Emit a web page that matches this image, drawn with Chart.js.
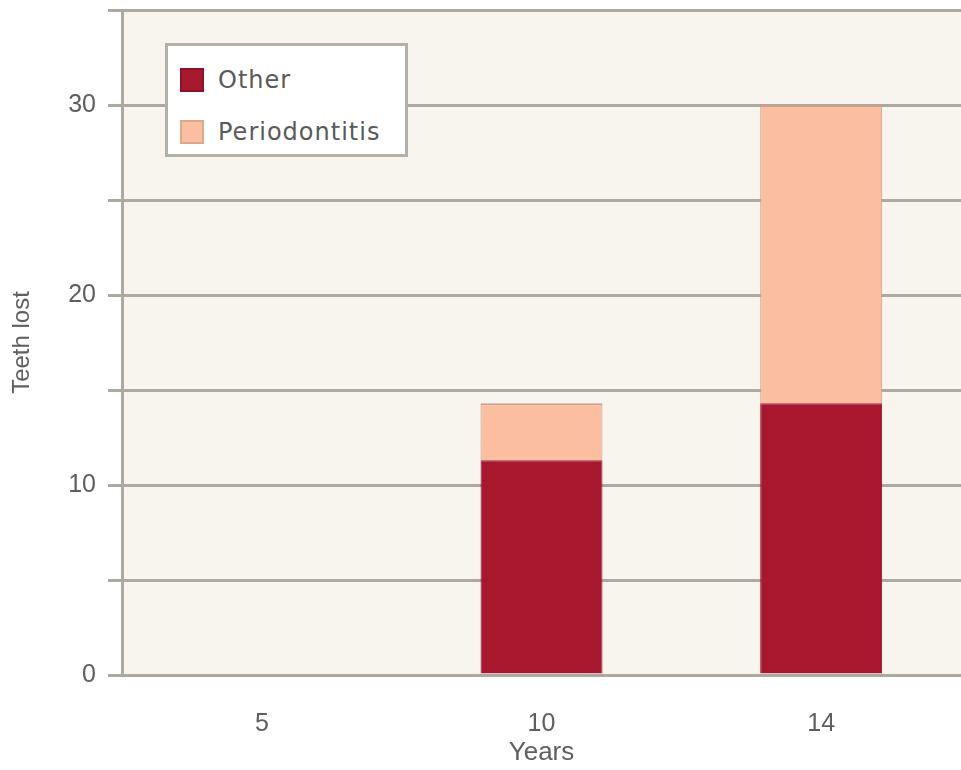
<!DOCTYPE html>
<html>
<head>
<meta charset="utf-8">
<script src="https://cdn.jsdelivr.net/npm/chart.js@4"></script>
<style>
  html, body { margin: 0; padding: 0; background: #ffffff; overflow: hidden; }
  #wrap { position: relative; width: 961px; height: 770px; }
  #legend {
    position: absolute; left: 165px; top: 43px; width: 237px; height: 108px;
    background: #ffffff; border: 3px solid #b3b0a8;
    font-family: "DejaVu Sans", sans-serif; font-size: 24px; letter-spacing: 1px; color: #5a5a5a;
  }
  .item { position: absolute; left: 12px; display: flex; align-items: center; }
  .swatch { width: 24px; height: 24px; margin-right: 14px; box-sizing: border-box; }
</style>
</head>
<body>
<div id="wrap">
  <canvas id="chart" width="961" height="770"></canvas>
  <div id="legend"></div>
</div>
<script>
const years = ["5", "10", "14"];
const other = [0, 11.3, 14.3];
const periodontitis = [0, 3.0, 15.7];
const yTicks = [0, 10, 20, 30];

const otherColor = "#a9172f";
const perioColor = "#fbbea0";
const gridColor = "#aca99f";
const textColor = "#5e5e5e";

const plotBg = {
    id: "plotBg",
    beforeDraw(chart) {
        const {ctx, chartArea} = chart;
        ctx.save();
        ctx.fillStyle = "#f8f5ef";
        ctx.fillRect(chartArea.left, chartArea.top, chartArea.right - chartArea.left, chartArea.bottom - chartArea.top);
        ctx.restore();
    }
};

const chart = new Chart(document.getElementById("chart"), {
    type: "bar",
    data: {
        labels: years,
        datasets: [
            {
                label: "Other",
                data: other,
                backgroundColor: otherColor,
                borderColor: "#8e1226",
                borderWidth: 1
            },
            {
                label: "Periodontitis",
                data: periodontitis,
                backgroundColor: perioColor,
                borderColor: "#c9a08a",
                borderWidth: {top: 2, left: 1, right: 1, bottom: 0}
            }
        ]
    },
    options: {
        responsive: false,
        animation: false,
        layout: { padding: { top: 10, right: 0, bottom: 0, left: 0 } },
        datasets: {
            bar: { categoryPercentage: 1, barPercentage: 0.436 }
        },
        plugins: {
            legend: { display: false },
            tooltip: { enabled: false }
        },
        scales: {
            x: {
                stacked: true,
                grid: { display: false },
                border: { display: false },
                ticks: {
                    color: textColor,
                    padding: 26,
                    font: { family: "Liberation Sans", size: 25 }
                },
                title: {
                    display: true,
                    text: "Years",
                    color: textColor,
                    padding: { top: 0, bottom: 2 },
                    font: { family: "Liberation Sans", size: 26 }
                },
                afterFit(scale) { scale.height = 95; }
            },
            y: {
                stacked: true,
                min: 0,
                max: 35,
                grid: {
                    color: gridColor,
                    lineWidth: 3,
                    tickLength: 14,
                    tickColor: gridColor
                },
                border: { display: true, color: gridColor, width: 3 },
                ticks: {
                    stepSize: 5,
                    padding: 12,
                    color: textColor,
                    font: { family: "Liberation Sans", size: 25 },
                    callback: v => yTicks.includes(v) ? v : ""
                },
                title: {
                    display: true,
                    text: "Teeth lost",
                    color: textColor,
                    padding: { top: 8, bottom: 0 },
                    font: { family: "Liberation Sans", size: 24 }
                },
                afterFit(scale) {
                    scale.width = 122;
                    scale.paddingTop = 0;
                    scale.paddingBottom = 0;
                }
            }
        }
    },
    plugins: [plotBg]
});

// legend box built from the datasets
const legend = document.getElementById("legend");
chart.data.datasets.forEach((ds, i) => {
    const item = document.createElement("div");
    item.className = "item";
    item.style.top = (i === 0 ? 20 : 72) + "px";
    const sw = document.createElement("span");
    sw.className = "swatch";
    sw.style.background = ds.backgroundColor;
    sw.style.border = "2px solid " + (i === 0 ? "#8e1226" : "#d8a98f");
    const txt = document.createElement("span");
    txt.textContent = ds.label;
    item.appendChild(sw);
    item.appendChild(txt);
    legend.appendChild(item);
});
</script>
</body>
</html>
